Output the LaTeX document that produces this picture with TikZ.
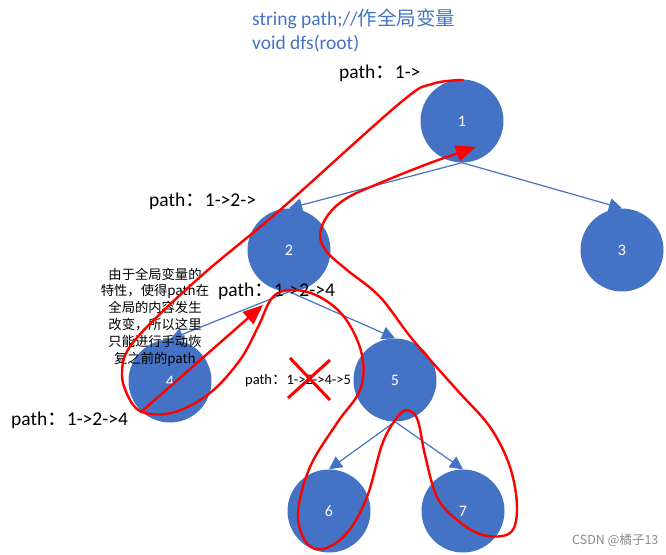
\documentclass[tikz,border=0pt]{standalone}
\usepackage{fontspec}
\usepackage{tikz}
\usepackage{xcolor}
\usetikzlibrary{positioning, arrows.meta}
\setmainfont{Carlito}
\newfontfamily\cjk{Noto Sans CJK SC}
\definecolor{nodeblue}{RGB}{68,114,196}
\tikzset{
  treenode/.style={circle, fill=nodeblue, minimum size=83pt, inner sep=0pt, text=white, font=\fontsize{16}{19}\selectfont},
  edge/.style={draw=nodeblue, line width=1.2pt, -{Triangle[length=13pt, width=13pt]}},
  walk/.style={draw=red, line width=2.4pt, line cap=round, -{Triangle[length=20pt, width=16pt]}},
  pathlabel/.style={anchor=west, inner sep=0pt, font=\fontsize{19.5}{22}\selectfont}
}
\begin{document}
\begin{tikzpicture}[x=1pt, y=-1pt]
            \useasboundingbox (0,0) rectangle (666,554);
            \node [treenode] (n1) at (462,121) {1};
            \node [treenode] (n2) at (289,250) {2};
            \node [treenode] (n3) at (622,250) {3};
            \node [treenode] (n4) at (170,381) {4};
            \node [treenode] (n5) at (395,380) {5};
            \node [treenode] (n6) at (329,511) {6};
            \node [treenode] (n7) at (463,511) {7};
            \draw[edge] (n1.south) -- (n2.north);
            \draw[edge] (n1.south) -- (n3.north);
            \draw[edge] (n2.south) -- (n4.north);
            \draw[edge] (n2.south) -- (n5.north);
            \draw[edge] (n5.south) -- (n6.north);
            \draw[edge] (n5.south) -- (n7.north);
            \node [anchor=west, inner sep=0pt, text=nodeblue, font=\fontsize{19.5}{22}\selectfont] (code1) at (252,19) {string path;//{\cjk 作全局变量}};
            \node [anchor=west, inner sep=0pt, text=nodeblue, font=\fontsize{19.5}{22}\selectfont] (code2) at (252,44) {void dfs(root)};
            \node [pathlabel] (p1) at (339,73) {path{\cjk ：}1->};
            \node [pathlabel] (p2) at (149,201) {path{\cjk ：}1->2->};
            \node [pathlabel] (p3) at (218,291) {path{\cjk ：}1->2->4};
            \node [pathlabel] (p4) at (11,420) {path{\cjk ：}1->2->4};
            \node [pathlabel, font=\fontsize{14.5}{17}\selectfont] (p5) at (245,381) {path{\cjk ：}1->2->4->5};
            \node [align=center, inner sep=0pt, font=\cjk\fontsize{13.3}{16.8}\selectfont] (note) at (155,317) {由于全局变量的\\特性，使得path在\\全局的内容发生\\改变，所以这里\\只能进行手动恢\\复之前的path};
            \node [anchor=west, inner sep=0pt, text=black!45, font=\cjk\fontsize{12.5}{14}\selectfont] (mark) at (572,540) {CSDN @橘子13};
            \coordinate (back4) at (263,305);
            \coordinate (back1) at (476,147);
            \draw[walk] (141,412) -- (back4);
            \draw[walk] plot[smooth, tension=0.6] coordinates {(463,80) (432,84) (400,103) (280,210) (200,277) (135,340) (122,372) (130,400) (145,413) (175,412) (210,393) (240,360) (258,327) (272,298) (290,290) (318,296) (345,318) (362,355) (360,390) (337,423) (310,467) (298,513) (306,542) (323,549) (347,533) (367,497) (383,442) (400,414) (410,411) (418,421) (425,455) (437,497) (457,520) (483,535) (510,533) (517,508) (510,467) (490,427) (457,390) (413,340) (380,297) (347,270) (327,252) (320,235) (328,215) (347,198) (380,183) (430,163) (back1)};
            \draw[red, line width=3pt] (290,358) -- (330,400);
            \draw[red, line width=3pt] (330,360) -- (288,398);
        \end{tikzpicture}
\end{document}
